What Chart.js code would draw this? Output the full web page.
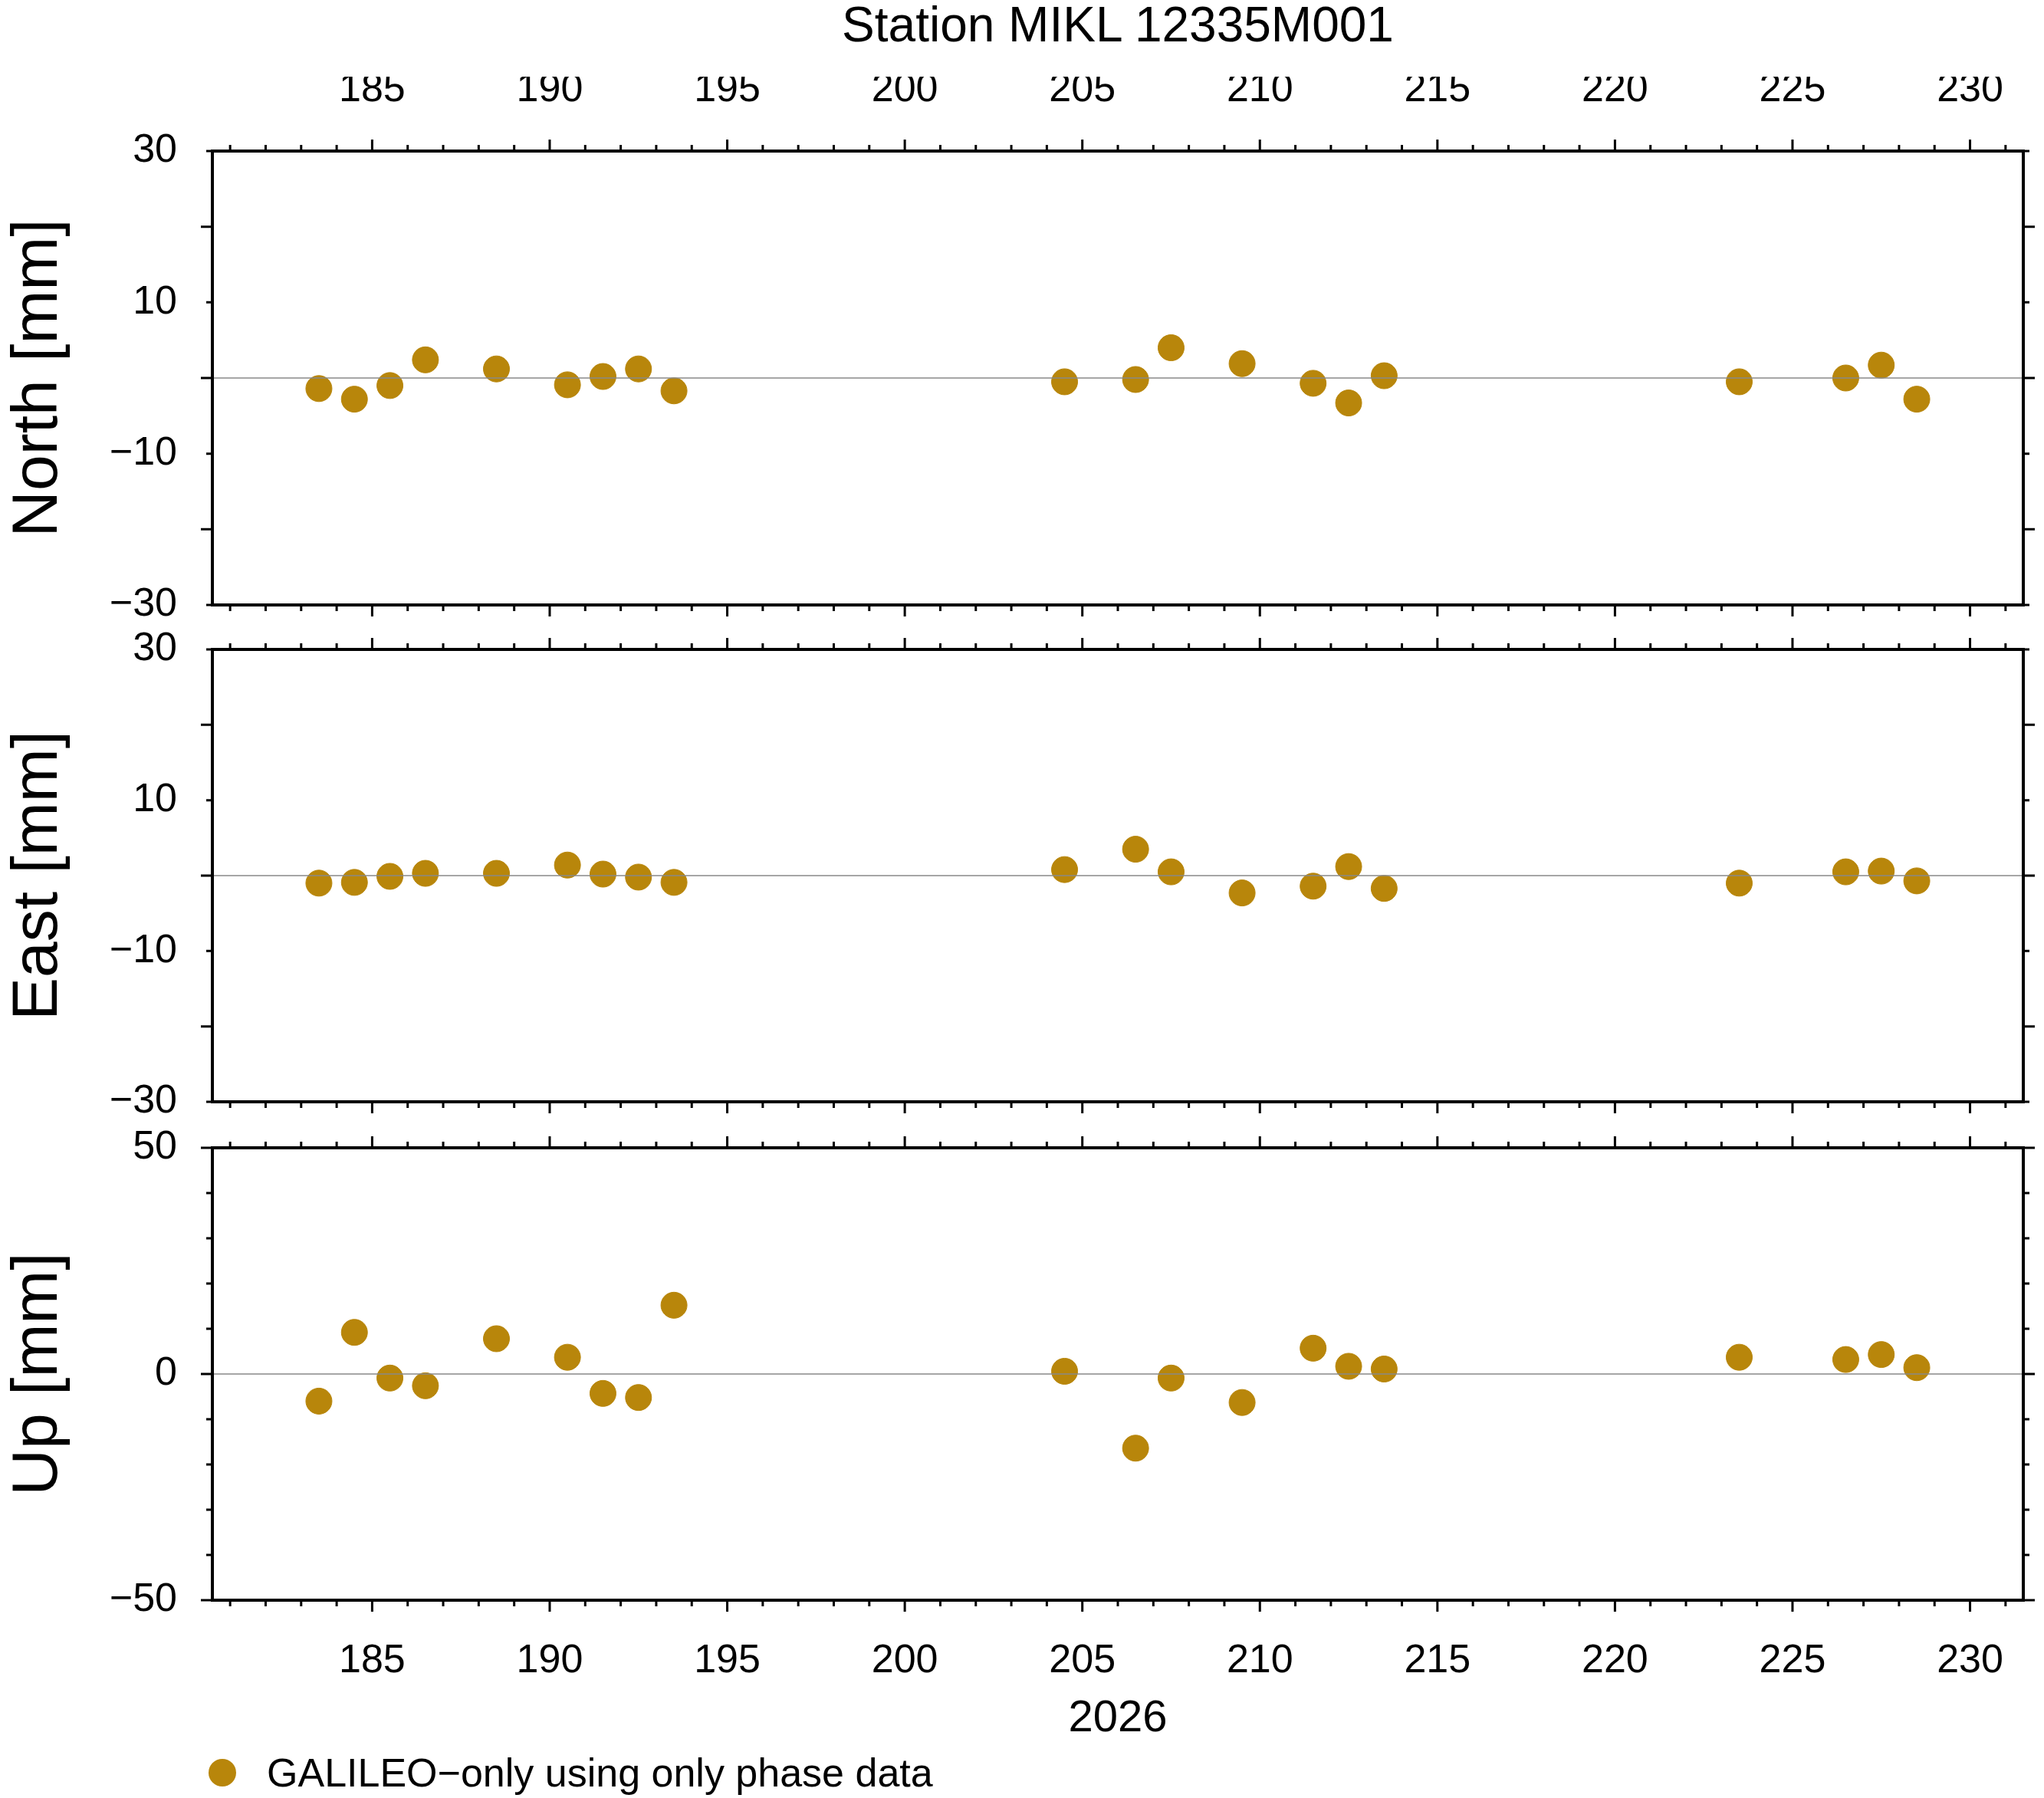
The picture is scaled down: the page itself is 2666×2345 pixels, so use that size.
<!DOCTYPE html>
<html>
<head>
<meta charset="utf-8">
<script src="https://cdn.jsdelivr.net/npm/chart.js@4"></script>
<style>
  body { margin: 0; background: #fff; font-family: "Liberation Sans", Arial, sans-serif; }
  #page { position: relative; width: 2666px; height: 2345px; }
  canvas.layer { position: absolute; left: 0; top: 0; }
  #title { position: absolute; top: 0; left: 0; width: 2916px; text-align: center; font-size: 64px; line-height: 64px; }
  #legend { position: absolute; left: 272px; top: 2282px; font-size: 52px; line-height: 60px; display: flex; align-items: center; }
  #legend span.dot { width: 36px; height: 36px; border-radius: 50%; background: #b8860b; display: inline-block; margin-right: 40px; }
</style>
</head>
<body>
<div id="page">
  <div id="title">Station MIKL 12335M001</div>
  <canvas id="cNorth" class="layer" width="2666" height="2345"></canvas>
  <canvas id="cEast" class="layer" width="2666" height="2345"></canvas>
  <canvas id="cUp" class="layer" width="2666" height="2345"></canvas>
  <div id="legend"><span class="dot"></span>GALILEO−only using only phase data</div>
</div>
<script>
// day of year 2026
const days = [183.5, 184.5, 185.5, 186.5, 188.5, 190.5, 191.5, 192.5, 193.5, 204.5,
              206.5, 207.5, 209.5, 211.5, 212.5, 213.5, 223.5, 226.5, 227.5, 228.5];
const north = [-1.4, -2.8, -1.0, 2.4, 1.2, -0.9, 0.2, 1.2, -1.7, -0.5,
               -0.2, 4.0, 1.9, -0.7, -3.3, 0.3, -0.5, 0.0, 1.7, -2.8];
const east = [-1.0, -0.9, -0.1, 0.3, 0.3, 1.4, 0.2, -0.2, -0.9, 0.8,
              3.5, 0.5, -2.3, -1.4, 1.2, -1.7, -1.0, 0.5, 0.6, -0.7];
const up = [-6.0, 9.2, -0.9, -2.6, 7.8, 3.7, -4.3, -5.2, 15.2, 0.6,
            -16.4, -0.9, -6.3, 5.7, 1.7, 1.1, 3.7, 3.2, 4.3, 1.4];
const xTickLabels = [185, 190, 195, 200, 205, 210, 215, 220, 225, 230];

const xMin = 180.5, xMax = 231.5;
const color = '#b8860b';
const font = "'Liberation Sans', Arial, sans-serif";
const W = 2666, H = 2345;
const plotLeft = 277, plotRight = 2639;

function fmt(v) { return v < 0 ? '\u2212' + Math.abs(v) : String(v); }

const framePlugin = {
  id: 'frame',
  afterDraw(chart, args, opts) {
    const { ctx, chartArea: a, scales } = chart;
    const x = scales.x, y = scales.y;
    ctx.save();
    // zero line
    const y0 = y.getPixelForValue(0);
    ctx.strokeStyle = '#888';
    ctx.lineWidth = 1.5;
    ctx.beginPath(); ctx.moveTo(a.left, y0); ctx.lineTo(a.right, y0); ctx.stroke();
    // ticks
    ctx.strokeStyle = '#000';
    ctx.lineWidth = 3;
    ctx.beginPath();
    for (let d = 181; d <= 231; d++) {
      const px = x.getPixelForValue(d);
      const len = d % 5 === 0 ? 15 : 8;
      ctx.moveTo(px, a.top); ctx.lineTo(px, a.top - len);
      ctx.moveTo(px, a.bottom); ctx.lineTo(px, a.bottom + len);
    }
    for (let v = y.min; v <= y.max + 1e-6; v += opts.minor) {
      const py = y.getPixelForValue(v);
      const len = Math.abs(v % opts.major) < 1e-6 ? 15 : 8;
      ctx.moveTo(a.left, py); ctx.lineTo(a.left - len, py);
      ctx.moveTo(a.right, py); ctx.lineTo(a.right + len, py);
    }
    ctx.stroke();
    ctx.lineWidth = 4;
    ctx.strokeRect(a.left, a.top, a.right - a.left, a.bottom - a.top);
    ctx.restore();
  }
};

function makeChart(id, values, label, yRange, major, minor, top, bottom, xPos) {
  const xAxisH = xPos === 'top' ? 97 : (xPos === 'bottom' ? 190 : 0);
  const padTop = xPos === 'top' ? top - xAxisH : top;
  const padBottom = xPos === 'bottom' ? H - bottom - xAxisH : H - bottom;
  return new Chart(document.getElementById(id), {
    type: 'scatter',
    data: {
      datasets: [{
        label: 'GALILEO−only using only phase data',
        data: days.map((d, i) => ({ x: d, y: values[i] })),
        backgroundColor: color,
        borderColor: color,
        pointRadius: 17,
        pointHoverRadius: 17
      }]
    },
    plugins: [framePlugin],
    options: {
      responsive: false,
      animation: false,
      events: [],
      layout: { padding: { left: 0, right: W - plotRight, top: padTop, bottom: padBottom } },
      plugins: {
        legend: { display: false },
        tooltip: { enabled: false },
        frame: { major: major, minor: minor }
      },
      scales: {
        x: {
          type: 'linear',
          position: xPos === 'top' ? 'top' : 'bottom',
          display: xPos !== 'none',
          min: xMin, max: xMax,
          grid: { display: false },
          border: { display: false },
          afterBuildTicks(s) { s.ticks = xTickLabels.map(v => ({ value: v })); },
          afterFit(s) { s.height = xAxisH; },
          ticks: {
            autoSkip: false, maxRotation: 0, padding: xPos === 'top' ? 40 : 40,
            color: '#000', font: { family: font, size: 52 }
          },
          title: {
            display: xPos === 'bottom', text: '2026', color: '#000',
            font: { family: font, size: 58 }, padding: { top: 0, bottom: 0 }
          }
        },
        y: {
          min: yRange[0], max: yRange[1],
          grid: { display: false },
          border: { display: false },
          afterBuildTicks(s) {
            const t = [];
            for (let v = yRange[0]; v <= yRange[1]; v += major) t.push({ value: v });
            s.ticks = t;
          },
          afterFit(s) { s.width = plotLeft; },
          ticks: {
            padding: 38, color: '#000', font: { family: font, size: 52 },
            callback: v => (Math.abs(v) === yRange[1] && major * 1.5 !== yRange[1] && label !== 'Up [mm]') ? '' : fmt(v)
          },
          title: {
            display: true, text: label, color: '#000',
            font: { family: font, size: 84 }, padding: { top: 0, bottom: 0 }
          }
        }
      }
    }
  });
}

makeChart('cNorth', north, 'North [mm]', [-30, 30], 20, 10, 197, 789, 'top');
makeChart('cEast', east, 'East [mm]', [-30, 30], 20, 10, 847, 1437, 'none');
makeChart('cUp', up, 'Up [mm]', [-50, 50], 50, 10, 1497, 2087, 'bottom');
</script>
</body>
</html>
